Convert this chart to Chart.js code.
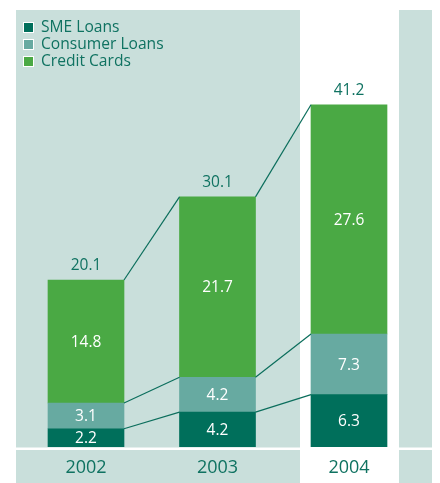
<!DOCTYPE html>
<html>
<head>
<meta charset="utf-8">
<script src="https://cdn.jsdelivr.net/npm/chart.js@4.4.1/dist/chart.umd.min.js"></script>
<style>
  html, body { margin: 0; padding: 0; background: #fff; }
  #wrap { width: 440px; height: 483px; }
</style>
</head>
<body>
<div id="wrap"><canvas id="loans" width="440" height="483"></canvas></div>
<script>
// loan portfolio by year, stacked
const years = ['2002', '2003', '2004'];
const smeLoans = [2.2, 4.2, 6.3];
const consumerLoans = [3.1, 4.2, 7.3];
const creditCards = [14.8, 21.7, 27.6];
const totals = [20.1, 30.1, 41.2];

const PANEL = '#c9dfdb';
const TEAL = '#0f7261';
const FONT = '"Open Sans", "Noto Sans", sans-serif';

// background panels and the strip that holds the year labels
const backdrop = {
  id: 'backdrop',
  beforeDraw(chart) {
    const ctx = chart.ctx;
    ctx.save();
    ctx.fillStyle = '#fff';
    ctx.fillRect(0, 0, chart.width, chart.height);
    ctx.fillStyle = PANEL;
    ctx.fillRect(16, 10, 284, 473);
    ctx.fillRect(399, 10, 33, 473);
    ctx.fillStyle = '#fff';
    const base = chart.scales.y.getPixelForValue(0);
    ctx.fillRect(0, base + 0.5, chart.width, 2.5);
    ctx.restore();
  }
};

// connector lines, segment values, totals, year labels and legend
const annotate = {
  id: 'annotate',
  afterDatasetsDraw(chart) {
    const ctx = chart.ctx;
    const metas = chart.data.datasets.map((d, i) => chart.getDatasetMeta(i));
    ctx.save();

    // lines joining the tops of matching segments
    ctx.strokeStyle = '#0b6e5c';
    ctx.lineWidth = 1.2;
    metas.forEach(meta => {
      for (let i = 0; i < meta.data.length - 1; i++) {
        const a = meta.data[i], b = meta.data[i + 1];
        ctx.beginPath();
        ctx.moveTo(a.x + a.width / 2, a.y);
        ctx.lineTo(b.x - b.width / 2, b.y);
        ctx.stroke();
      }
    });

    // values inside segments
    ctx.fillStyle = '#fff';
    ctx.font = '15.5px ' + FONT;
    ctx.textAlign = 'center';
    ctx.textBaseline = 'middle';
    metas.forEach((meta, di) => {
      const values = chart.data.datasets[di].data;
      meta.data.forEach((bar, i) => {
        ctx.fillText(values[i].toFixed(1), bar.x, (bar.y + bar.base) / 2 + 1);
      });
    });

    // totals above bars
    ctx.fillStyle = TEAL;
    const top = metas[metas.length - 1];
    top.data.forEach((bar, i) => {
      ctx.fillText(totals[i].toFixed(1), bar.x, bar.y - 14);
    });

    // year labels
    ctx.font = '18px ' + FONT;
    const yBase = chart.scales.y.getPixelForValue(0);
    top.data.forEach((bar, i) => {
      ctx.fillText(years[i], bar.x, yBase + 21);
    });

    // legend
    ctx.font = '15.6px ' + FONT;
    ctx.textAlign = 'left';
    chart.data.datasets.forEach((ds, i) => {
      const y = 22 + i * 17;
      ctx.fillStyle = '#fff';
      ctx.fillRect(23, y, 11, 11);
      ctx.fillStyle = ds.backgroundColor;
      ctx.fillRect(24, y + 1, 9, 9);
      ctx.fillStyle = TEAL;
      ctx.fillText(ds.label, 41, y + 6);
    });
    ctx.restore();
  }
};

new Chart(document.getElementById('loans'), {
  type: 'bar',
  data: {
    labels: years,
    datasets: [
      { label: 'SME Loans', data: smeLoans, backgroundColor: '#006f5b' },
      { label: 'Consumer Loans', data: consumerLoans, backgroundColor: '#67aaa1' },
      { label: 'Credit Cards', data: creditCards, backgroundColor: '#4aa944' }
    ]
  },
  options: {
    responsive: false,
    animation: false,
    devicePixelRatio: 1,
    layout: { padding: { left: 20.25, right: 25.25, top: 10, bottom: 36 } },
    datasets: { bar: { barThickness: 76, borderWidth: 0 } },
    scales: {
      x: { display: false, stacked: true },
      y: { display: false, stacked: true, min: 0, max: 52.6 }
    },
    plugins: { legend: { display: false }, tooltip: { enabled: false } }
  },
  plugins: [backdrop, annotate]
});
</script>
</body>
</html>
